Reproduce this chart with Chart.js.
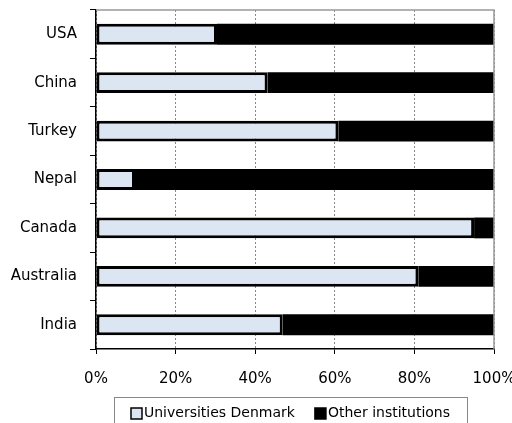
<!DOCTYPE html>
<html><head><meta charset="utf-8">
<script src="https://cdn.jsdelivr.net/npm/chart.js@4"></script>
<style>html,body{margin:0;padding:0;background:#fff;overflow:hidden}#wrap{width:512px;height:423px}</style>
</head><body><div id="wrap"><canvas id="c" width="512" height="423"></canvas></div>
<script>
const categories = ['USA', 'China', 'Turkey', 'Nepal', 'Canada', 'Australia', 'India'];
const universitiesDenmark = [30.4, 43.1, 60.9, 9.8, 95.0, 81.0, 46.9];
const otherInstitutions = [69.6, 56.9, 39.1, 90.2, 5.0, 19.0, 53.1];
const seriesLabels = ['Universities Denmark', 'Other institutions'];
const xTickValues = [0, 20, 40, 60, 80, 100];
const xTickLabels = ['0%', '20%', '40%', '60%', '80%', '100%'];

const FONT = '"DejaVu Sans", sans-serif';

const framePlugin = {
  id: 'frameLegend',
  afterDraw(chart) {
    const ctx = chart.ctx;
    const ca = chart.chartArea;
    ctx.save();
    ctx.strokeStyle = '#999';
    ctx.lineWidth = 1.5;
    ctx.beginPath();
    ctx.moveTo(ca.left, ca.top);
    ctx.lineTo(ca.right, ca.top);
    ctx.lineTo(ca.right, ca.bottom);
    ctx.stroke();

    ctx.font = '14px ' + FONT;
    const items = chart.data.datasets.map(ds => ({label: ds.label, fill: ds.backgroundColor, w: ctx.measureText(ds.label).width}));
    const box = 11, gapBoxText = 2, gapItems = 20, padX = 17;
    const total = items.reduce((s, it) => s + box + gapBoxText + it.w, 0) + gapItems * (items.length - 1);
    const cx = 290, top = 397;
    const frameW = Math.round(total + 2 * padX);
    const fx = Math.round(cx - frameW / 2);
    ctx.strokeStyle = '#888';
    ctx.lineWidth = 1;
    ctx.strokeRect(fx + 0.5, top + 0.5, frameW, 40);
    let x = fx + padX;
    const cy = 413.5;
    items.forEach(it => {
      ctx.fillStyle = it.fill;
      ctx.fillRect(x, cy - 5.5, box, box);
      ctx.strokeStyle = '#000';
      ctx.lineWidth = 1.5;
      ctx.strokeRect(x, cy - 5.5, box, box);
      ctx.fillStyle = '#000';
      ctx.textBaseline = 'middle';
      ctx.textAlign = 'left';
      ctx.fillText(it.label, x + box + gapBoxText, cy);
      x += box + gapBoxText + it.w + gapItems;
    });
    ctx.restore();
  }
};

new Chart(document.getElementById('c'), {
  type: 'bar',
  data: {
    labels: categories,
    datasets: [
      {label: seriesLabels[0], data: universitiesDenmark, backgroundColor: '#dce6f2', borderColor: '#000', borderWidth: 3, borderSkipped: false, categoryPercentage: 1, barPercentage: 0.43},
      {label: seriesLabels[1], data: otherInstitutions, backgroundColor: '#000', borderColor: '#000', borderWidth: 0, borderSkipped: false, categoryPercentage: 1, barPercentage: 0.43}
    ]
  },
  options: {
    indexAxis: 'y',
    responsive: false,
    animation: false,
    layout: {padding: {top: 10, right: 18, bottom: 26, left: 0}},
    plugins: {legend: {display: false}, tooltip: {enabled: false}},
    scales: {
      x: {
        stacked: true, min: 0, max: 100,
        afterBuildTicks: s => { s.ticks = xTickValues.map(v => ({value: v})); },
        afterFit: s => { s.height = 48; s.paddingLeft = 0; s.paddingRight = 0; },
        ticks: {callback: (v, i) => xTickLabels[i], font: {family: FONT, size: 15}, color: '#000', padding: 16, maxRotation: 0, autoSkip: false},
        grid: {color: '#888', lineWidth: 1, tickColor: '#000', tickLength: 5, tickBorderDash: []},
        border: {color: '#000', width: 1.5, dash: [2, 2]}
      },
      y: {
        stacked: true,
        afterFit: s => { s.width = 96; s.paddingTop = 0; s.paddingBottom = 0; },
        ticks: {font: {family: FONT, size: 15}, color: '#000', padding: 13},
        grid: {drawOnChartArea: false, tickLength: 6, tickColor: '#000', offset: true},
        border: {color: '#000', width: 1.5}
      }
    }
  },
  plugins: [framePlugin]
});
</script>
</body></html>
